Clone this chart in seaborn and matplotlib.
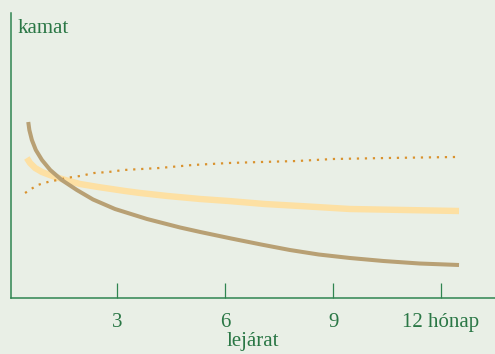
import pandas as pd
import matplotlib.pyplot as plt
import seaborn as sns

# Data (x in months, y in arbitrary units)
brown_x = [0.53, 0.56, 0.63, 0.74, 0.91, 1.14, 1.46, 1.88, 2.33, 2.94, 3.83, 4.75, 5.31, 6.17,
           7.0, 7.8, 8.6, 9.47, 10.4, 11.4, 12.5]
brown_y = [176, 168, 158, 148, 138, 128, 118, 108, 98.5, 89, 79, 70.5, 66, 59.5,
           53.5, 48, 43.5, 40, 37, 34.5, 33]

yellow_x = [0.49, 0.58, 0.72, 0.91, 1.2, 1.56, 1.97, 2.47, 3.22, 3.64, 4.4, 5.31, 6.1, 7.1, 8.08,
            9.47, 11.0, 12.5]
yellow_y = [140, 135, 130, 126, 122, 118, 114, 111, 107, 105, 102, 99, 97, 94, 92,
            89, 88, 87]

dotted_x = [0.44, 0.61, 0.79, 0.98, 1.17, 1.37, 1.58, 1.97, 2.36, 2.76, 3.18, 4.17, 5.1, 6.1, 7.0,
            8.0, 9.0, 10.5, 12.4]
dotted_y = [105, 109, 113, 115, 117, 118, 120, 122, 125, 126, 128, 130, 133, 135, 136,
            137, 139, 140, 141]

tick_pos = [3, 6, 9, 12]
tick_labels = ['3', '6', '9', '12 hónap']

bg = '#e9efe6'
green = '#2f8550'
text_green = '#2a7745'

sns.set_style('white', {'axes.facecolor': bg, 'figure.facecolor': bg})
plt.rcParams['font.family'] = ['Liberation Serif', 'DejaVu Serif']

fig = plt.figure(figsize=(4.95, 3.54), dpi=100)
ax = fig.add_axes([11 / 495, 56 / 354, 484 / 495, 285 / 354])

sns.lineplot(x=yellow_x, y=yellow_y, ax=ax, color='#fde0a3', linewidth=4.6,
             solid_capstyle='butt', estimator=None, sort=False)
sns.lineplot(x=dotted_x, y=dotted_y, ax=ax, color='#d9922e', linewidth=1.6,
             linestyle=(0, (1, 2.6)), estimator=None, sort=False)
sns.lineplot(x=brown_x, y=brown_y, ax=ax, color='#b8a074', linewidth=2.9,
             solid_capstyle='butt', estimator=None, sort=False)

ax.set_xlim(0.05, 13.5)
ax.set_ylim(0, 285)

for s in ['top', 'right']:
    ax.spines[s].set_visible(False)
for s in ['left', 'bottom']:
    ax.spines[s].set_color(green)
    ax.spines[s].set_linewidth(1.1)

ax.set_xticks(tick_pos)
ax.set_xticklabels(tick_labels)
ax.set_yticks([])
ax.tick_params(axis='x', bottom=True, direction='in', length=11, width=0.9, color=green,
               pad=11, labelsize=15, labelcolor=text_green)
ax.set_xlabel('lejárat', fontsize=15, color=text_green, labelpad=0)

fig.text(18 / 495, 1 - 33 / 354, 'kamat', fontsize=15, color=text_green,
         ha='left', va='baseline')

plt.savefig('out.png', dpi=100, facecolor=bg)
